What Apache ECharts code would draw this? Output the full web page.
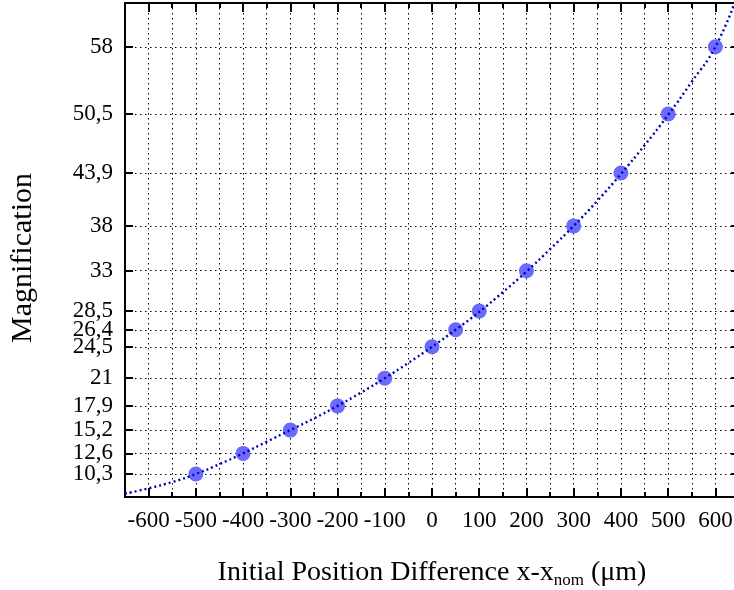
<!DOCTYPE html>
<html>
<head>
<meta charset="utf-8">
<script src="https://cdn.jsdelivr.net/npm/echarts@6/dist/echarts.min.js"></script>
<style>
html,body{margin:0;padding:0;background:#fff;}
#chart{width:734px;height:590px;}
</style>
</head>
<body>
<div id="chart"></div>
<script>
// Measured points
var posX = [-500, -400, -300, -200, -100, 0, 50, 100, 200, 300, 400, 500, 600];
var magY = [10.3, 12.6, 15.2, 17.9, 21, 24.5, 26.4, 28.5, 33, 38, 43.9, 50.5, 58];
// Fitted curve
var fitX = [-650, -600, -550, -500, -450, -400, -350, -300, -250, -200, -150, -100, -50, 0,
            50, 100, 150, 200, 250, 300, 350, 400, 450, 500, 550, 600, 650];
var fitY = [8.1, 8.7, 9.4, 10.3, 11.4, 12.6, 13.9, 15.2, 16.5, 17.9, 19.4, 21.0, 22.7, 24.5,
            26.4, 28.4, 30.6, 32.9, 35.4, 38.0, 40.8, 43.8, 47.0, 50.4, 54.1, 58.0, 64.2];
// Tick labels
var yTicks = [10.3, 12.6, 15.2, 17.9, 21, 24.5, 26.4, 28.5, 33, 38, 43.9, 50.5, 58];
var xMajor = [-600, -500, -400, -300, -200, -100, 0, 100, 200, 300, 400, 500, 600];

var X_MIN = -650, X_MAX = 650, Y_MIN = 7.73, Y_MAX = 62.89;
var FONT = 'Liberation Serif';
var axisLineStyle = {show: true, onZero: false, lineStyle: {color: '#000', width: 2}};
var gridDots = {show: true, lineStyle: {color: '#000', width: 1, type: [1.5, 3.5]}};

// labels split in two interleaved sets so the library does not drop close neighbours
var yTicksA = yTicks.filter(function (v, i) { return i % 2 === 0; });
var yTicksB = yTicks.filter(function (v, i) { return i % 2 === 1; });
function yFmt(v) { return String(v).replace('.', ','); }
function yLabel(vals) {
  return {
    show: true, margin: 12, color: '#000', fontFamily: FONT, fontSize: 23, lineHeight: 16,
    customValues: vals, hideOverlap: false, showMinLabel: true, showMaxLabel: true,
    formatter: yFmt
  };
}

var chart = echarts.init(document.getElementById('chart'), null, {renderer: 'canvas'});

var scatterData = posX.map(function (x, i) { return [x, magY[i]]; });
var fitData = fitX.map(function (x, i) { return [x, fitY[i]]; });

chart.setOption({
  backgroundColor: '#fff',
  animation: false,
  grid: {left: 125, right: -5, top: 3, bottom: 93, containLabel: false, outerBoundsMode: 'none'},
  xAxis: [
    {
      type: 'value', position: 'bottom', min: X_MIN, max: X_MAX, interval: 50,
      axisLine: axisLineStyle,
      axisTick: {show: true, inside: true, length: 5, lineStyle: {color: '#000', width: 2}},
      axisLabel: {
        show: true, margin: 12, color: '#000', fontFamily: FONT, fontSize: 23,
        showMinLabel: true, showMaxLabel: true, hideOverlap: false,
        formatter: function (v) { return (v % 100 === 0 && Math.abs(v) <= 600) ? String(v) : ''; }
      },
      splitLine: gridDots,
      name: 'Initial Position Difference x-x{sub|nom} (\u03bcm)',
      nameLocation: 'middle', nameGap: 59,
      nameTextStyle: {
        color: '#000', fontFamily: FONT, fontSize: 28,
        rich: {sub: {fontFamily: FONT, fontSize: 17, color: '#000', padding: [16, 0, 0, 0]}}
      }
    },
    {
      type: 'value', position: 'bottom', min: X_MIN, max: X_MAX,
      axisLine: {show: false},
      axisTick: {show: true, inside: true, length: 9, customValues: xMajor, lineStyle: {color: '#000', width: 2}},
      axisLabel: {show: false},
      splitLine: {show: false}
    },
    {
      type: 'value', position: 'top', min: X_MIN, max: X_MAX, interval: 50,
      axisLine: axisLineStyle,
      axisTick: {show: true, inside: true, length: 5, lineStyle: {color: '#000', width: 2}},
      axisLabel: {show: false},
      splitLine: {show: false}
    },
    {
      type: 'value', position: 'top', min: X_MIN, max: X_MAX,
      axisLine: {show: false},
      axisTick: {show: true, inside: true, length: 9, customValues: xMajor, lineStyle: {color: '#000', width: 2}},
      axisLabel: {show: false},
      splitLine: {show: false}
    }
  ],
  yAxis: [
    {
      type: 'value', position: 'left', min: Y_MIN, max: Y_MAX,
      axisLine: axisLineStyle,
      axisTick: {show: true, inside: true, length: 8, customValues: yTicks, lineStyle: {color: '#000', width: 2}},
      axisLabel: yLabel(yTicksA),
      splitLine: gridDots,
      name: 'Magnification', nameLocation: 'middle', nameGap: 87, nameRotate: 90,
      nameTextStyle: {color: '#000', fontFamily: FONT, fontSize: 30, padding: [0, 16, 0, 0]}
    },
    {
      type: 'value', position: 'right', min: Y_MIN, max: Y_MAX,
      axisLine: axisLineStyle,
      axisTick: {show: true, inside: true, length: 8, customValues: yTicks, lineStyle: {color: '#000', width: 2}},
      axisLabel: {show: false},
      splitLine: {show: false}
    },
    {
      type: 'value', position: 'left', offset: 0, min: Y_MIN, max: Y_MAX,
      axisLine: {show: false},
      axisTick: {show: false},
      axisLabel: yLabel(yTicksB),
      splitLine: {show: false}
    }
  ],
  series: [
    {
      type: 'scatter', xAxisIndex: 0, yAxisIndex: 0, data: scatterData,
      symbol: 'circle', symbolSize: 15,
      itemStyle: {color: '#6a6aff', opacity: 1},
      z: 3
    },
    {
      type: 'line', xAxisIndex: 0, yAxisIndex: 0, data: fitData,
      showSymbol: false, smooth: true, clip: true,
      lineStyle: {color: '#0000b4', width: 2.4, type: [2, 3]},
      z: 4
    }
  ]
});
</script>
</body>
</html>
